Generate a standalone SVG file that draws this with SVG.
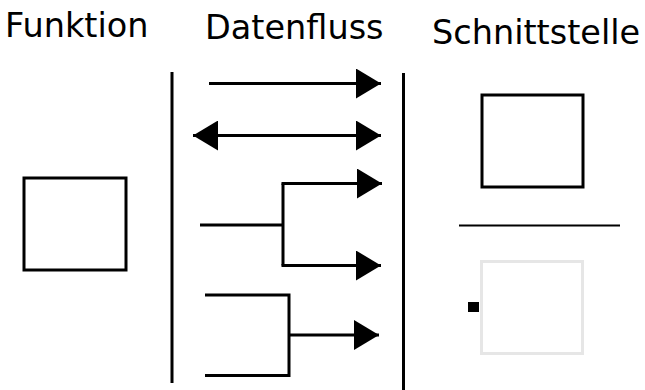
<svg xmlns="http://www.w3.org/2000/svg" width="645" height="390" viewBox="0 0 645 390">
  <defs>
    <marker id="head" viewBox="0 0 25 30" refX="25" refY="15" markerWidth="25" markerHeight="30" markerUnits="userSpaceOnUse" orient="auto-start-reverse">
      <path d="M0,0 L25,15 L0,30 Z" fill="#000"/>
    </marker>
  </defs>
  <style>
    .title { font-family: "DejaVu Sans", sans-serif; font-size: 33.5px; fill: #000; }
    .box { fill: #fff; stroke: #000; stroke-width: 3; }
    .ghost { fill: #fff; stroke: #e6e6e6; stroke-width: 3; }
    .rule { stroke: #000; stroke-width: 3; fill: none; }
    .flow { stroke: #000; stroke-width: 3; fill: none; }
    .arrow { marker-end: url(#head); }
    .both { marker-start: url(#head); marker-end: url(#head); }
  </style>
  <rect width="645" height="390" fill="#fff"/>

  <!-- column headings -->
  <g id="headings">
    <text class="title" x="5" y="37">Funktion</text>
    <text class="title" x="205" y="39">Datenfluss</text>
    <text class="title" x="432" y="44">Schnittstelle</text>
  </g>

  <!-- column dividers -->
  <g id="dividers">
    <line class="rule" x1="172" y1="72" x2="172" y2="383"/>
    <line class="rule" x1="403.5" y1="73" x2="403.5" y2="390"/>
  </g>

  <!-- function node -->
  <g id="funktion">
    <rect class="box" x="24" y="178" width="102" height="92"/>
  </g>

  <!-- interface nodes -->
  <g id="schnittstelle">
    <rect class="box" x="482" y="95" width="101" height="92"/>
  </g>
  <g id="trenner">
    <line x1="459" y1="225.5" x2="620" y2="225.5" stroke="#000" stroke-width="2"/>
  </g>
  <g id="schnittstelle-leer">
    <rect class="ghost" x="481.5" y="261.5" width="101" height="92"/>
    <rect x="468" y="302" width="11" height="10" fill="#000"/>
  </g>

  <!-- data flow connectors -->
  <g id="connectors">
    <line class="flow arrow" x1="209" y1="83.5" x2="381" y2="83.5"/>
    <line class="flow both" x1="193" y1="135.5" x2="381" y2="135.5"/>
    <!-- split -->
    <path class="flow" d="M200,225 H283 M283,183.5 V265.5"/>
    <line class="flow arrow" x1="281.5" y1="183.5" x2="382" y2="183.5"/>
    <line class="flow arrow" x1="281.5" y1="265.5" x2="381" y2="265.5"/>
    <!-- merge -->
    <path class="flow" d="M205,295 H289 V375.5 H205"/>
    <line class="flow arrow" x1="289" y1="335" x2="379" y2="335"/>
  </g>
</svg>
